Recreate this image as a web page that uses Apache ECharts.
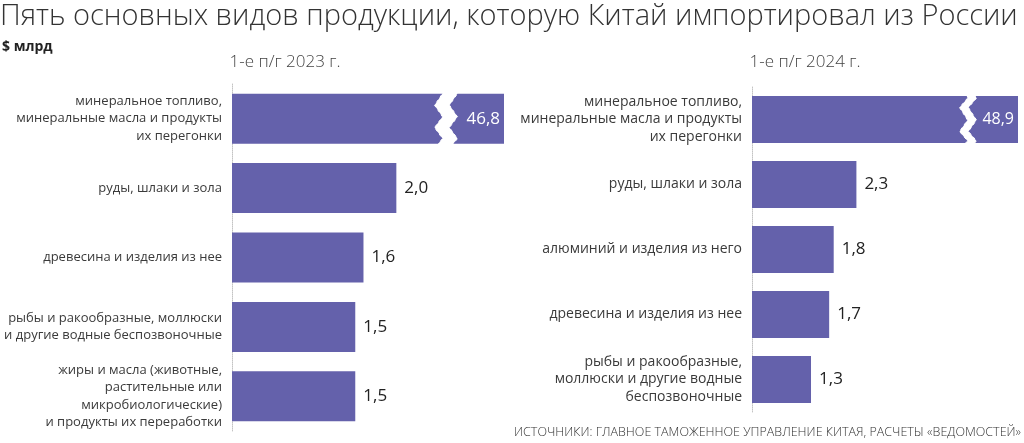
<!DOCTYPE html>
<html>
<head>
<meta charset="utf-8">
<script src="https://cdn.jsdelivr.net/npm/echarts@6/dist/echarts.min.js"></script>
<style>
  * { margin: 0; padding: 0; }
  body { background: #fff; }
  #main { width: 1024px; height: 443px; }
</style>
</head>
<body>
<div id="main"></div>
<script>
  // данные
  var cats2023 = [
    'минеральное топливо,\nминеральные масла и продукты\nих перегонки',
    'руды, шлаки и зола',
    'древесина и изделия из нее',
    'рыбы и ракообразные, моллюски\nи другие водные беспозвоночные',
    'жиры и масла (животные,\nрастительные или\nмикробиологические)\nи продукты их переработки'
  ];
  var vals2023 = [46.8, 2.0, 1.6, 1.5, 1.5];

  var cats2024 = [
    'минеральное топливо,\nминеральные масла и продукты\nих перегонки',
    'руды, шлаки и зола',
    'алюминий и изделия из него',
    'древесина и изделия из нее',
    'рыбы и ракообразные,\nмоллюски и другие водные\nбеспозвоночные'
  ];
  var vals2024 = [48.9, 2.3, 1.8, 1.7, 1.3];

  var barColor = '#6461ab';
  var font = '"Open Sans", "Noto Sans", sans-serif';

  function fmt(v) { return v.toFixed(1).replace('.', ','); }

  function barData(vals, lblSize) {
    return vals.map(function (v, i) {
      if (i === 0) {
        return { value: v, label: { position: 'insideRight', color: '#fff', distance: 4, fontSize: lblSize } };
      }
      return v;
    });
  }

  var breakStyle = {
    show: true,
    expandOnClick: false,
    zigzagAmplitude: 4,
    zigzagMinSpan: 9,
    zigzagMaxSpan: 13,
    zigzagZ: 100,
    itemStyle: { color: '#fff', borderColor: '#fff', borderWidth: 1, opacity: 1 }
  };

  function xAx(idx, max, brk) {
    return {
      type: 'value', gridIndex: idx, min: 0, max: max,
      breaks: [brk],
      breakArea: breakStyle,
      axisLine: { show: false }, axisTick: { show: false },
      axisLabel: { show: false }, splitLine: { show: false }
    };
  }

  function yAx(idx, cats, size) {
    return {
      type: 'category', gridIndex: idx, inverse: true, data: cats,
      axisLine: { show: true, lineStyle: { color: '#c4c4c4', type: 'dotted', width: 1 } },
      axisTick: { show: false },
      axisLabel: { color: '#3a3a3a', fontSize: size, lineHeight: 17.5, fontFamily: font, margin: 10, align: 'right' }
    };
  }

  function series(idx, vals, width, firstSize) {
    return {
      type: 'bar', xAxisIndex: idx, yAxisIndex: idx,
      data: barData(vals, firstSize),
      barWidth: width,
      itemStyle: { color: barColor },
      label: {
        show: true, position: 'right', distance: 8,
        color: '#222', fontSize: 17, fontFamily: font,
        formatter: function (p) { return fmt(p.value); }
      },
      silent: true
    };
  }

  var chart = echarts.init(document.getElementById('main'));
  chart.setOption({
    animation: false,
    title: [
      { text: 'Пять основных видов продукции, которую Китай импортировал из России', left: 0, top: 2, padding: 0,
        textStyle: { fontSize: 29, fontWeight: 300, color: '#333', fontFamily: font } },
      { text: '$ млрд', left: 2, top: 40, padding: 0,
        textStyle: { fontSize: 14, fontWeight: 'bold', color: '#222', fontFamily: font } },
      { text: '1-е п/г 2023 г.', left: 285, top: 54, textAlign: 'center', padding: 0,
        textStyle: { fontSize: 17, fontWeight: 300, color: '#444', fontFamily: font } },
      { text: '1-е п/г 2024 г.', left: 805, top: 54, textAlign: 'center', padding: 0,
        textStyle: { fontSize: 17, fontWeight: 300, color: '#444', fontFamily: font } },
      { text: 'ИСТОЧНИКИ: ГЛАВНОЕ ТАМОЖЕННОЕ УПРАВЛЕНИЕ КИТАЯ, РАСЧЕТЫ «ВЕДОМОСТЕЙ»', right: 3, top: 426, padding: 0,
        textStyle: { fontSize: 12.5, fontWeight: 300, color: '#333', fontFamily: font } }
    ],
    grid: [
      { left: 232, width: 272, top: 84, height: 347, outerBoundsMode: 'none', containLabel: false },
      { left: 752, width: 266, top: 87, height: 325, outerBoundsMode: 'none', containLabel: false }
    ],
    xAxis: [
      xAx(0, 46.8, { start: 2.51, end: 46.18, gap: 0.18 }),
      xAx(1, 48.9, { start: 4.66, end: 47.9, gap: 0.2 })
    ],
    yAxis: [yAx(0, cats2023, 13), yAx(1, cats2024, 14)],
    series: [series(0, vals2023, 50, 17), series(1, vals2024, 47, 16)]
  });
</script>
</body>
</html>
